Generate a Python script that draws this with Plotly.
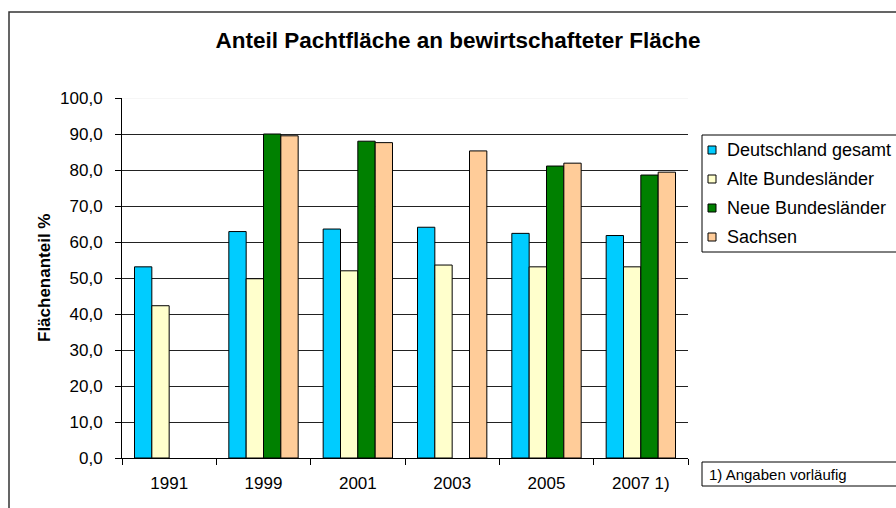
import plotly.graph_objects as go

years = ["1991", "1999", "2001", "2003", "2005", "2007 1)"]
deutschland = [53.1, 62.9, 63.6, 64.1, 62.4, 61.8]
alte_bl = [42.3, 49.8, 52.0, 53.6, 53.1, 53.1]
neue_bl = [None, 90.0, 88.0, None, 81.1, 78.6]
sachsen = [None, 89.5, 87.6, 85.3, 81.9, 79.4]

series_names = ["Deutschland gesamt", "Alte Bundesländer", "Neue Bundesländer", "Sachsen"]
series_values = [deutschland, alte_bl, neue_bl, sachsen]
series_colors = ["#00CCFF", "#FFFFCC", "#008000", "#FFCC99"]
footnote = "1) Angaben vorläufig"

FONT = "Liberation Sans, Arial, sans-serif"
W, H = 896, 508
ML, MR, MT, MB = 122, 208, 98, 50
PW, PH = W - ML - MR, H - MT - MB


def px_x(px):
    return (px - ML) / PW


def px_y(py):
    return (H - MB - py) / PH


fig = go.Figure()
for name, vals, col in zip(series_names, series_values, series_colors):
    fig.add_trace(go.Bar(
        x=years, y=vals, name=name, showlegend=False,
        marker=dict(color=col, line=dict(color="#000000", width=1)),
    ))

shapes = [
    dict(type="line", xref="paper", yref="y", x0=0, x1=1, y0=100, y1=100,
         line=dict(color="#EEEEEE", width=1), layer="between"),
    # outer chart frame
    dict(type="rect", xref="paper", yref="paper",
         x0=px_x(9), x1=px_x(930), y0=px_y(540), y1=px_y(12),
         line=dict(color="#333333", width=1.5)),
    # legend box
    dict(type="rect", xref="paper", yref="paper",
         x0=px_x(702), x1=px_x(930), y0=px_y(252), y1=px_y(135),
         line=dict(color="#000000", width=1), fillcolor="white"),
    # footnote box
    dict(type="rect", xref="paper", yref="paper",
         x0=px_x(702), x1=px_x(930), y0=px_y(486), y1=px_y(462),
         line=dict(color="#000000", width=1), fillcolor="white"),
]
annotations = [
    dict(text="Flächenanteil %", xref="paper", yref="paper",
         x=px_x(44), y=0.5, xanchor="center", yanchor="middle",
         textangle=-90, showarrow=False,
         font=dict(size=17, weight="bold", family=FONT)),
    dict(text=footnote, xref="paper", yref="paper",
         x=px_x(707), y=px_y(474), xanchor="left", yanchor="middle",
         showarrow=False, font=dict(size=15, family=FONT)),
]

# legend entries
for i, (name, col) in enumerate(zip(series_names, series_colors)):
    cy = 150 + 29 * i
    shapes.append(dict(type="rect", xref="paper", yref="paper",
                       x0=px_x(708), x1=px_x(716), y0=px_y(cy + 4), y1=px_y(cy - 4),
                       line=dict(color="#000000", width=1), fillcolor=col))
    annotations.append(dict(text=name, xref="paper", yref="paper",
                            x=px_x(725), y=px_y(cy), xanchor="left", yanchor="middle",
                            showarrow=False, font=dict(size=18, family=FONT)))

fig.update_layout(
    width=W, height=H,
    margin=dict(l=ML, r=MR, t=MT, b=MB, autoexpand=False),
    paper_bgcolor="white", plot_bgcolor="white",
    font=dict(family=FONT, size=17, color="#000000"),
    separators=",.",
    barmode="group", bargap=0.265, bargroupgap=0,
    title=dict(text="Anteil Pachtfläche an bewirtschafteter Fläche",
               font=dict(size=22.5, weight="bold", family=FONT),
               x=458 / W, xref="container", xanchor="center",
               y=1 - 40 / H, yref="container", yanchor="middle"),
    showlegend=False,
    hovermode=False,
    xaxis=dict(type="category", showline=True, linecolor="#000000", linewidth=1,
               ticks="outside", ticklen=6, tickcolor="#000000", tickson="boundaries",
               showgrid=False, tickfont=dict(size=17), ticklabelstandoff=10),
    yaxis=dict(range=[0, 100], dtick=10, tick0=0, tickformat=".1f",
               showline=True, linecolor="#000000", linewidth=1,
               ticks="outside", ticklen=6, tickcolor="#000000",
               showgrid=True, gridcolor="#222222", gridwidth=1,
               zeroline=False, tickfont=dict(size=17), ticklabelstandoff=9),
    shapes=shapes,
    annotations=annotations,
)

fig.write_html("out.html", config={"displayModeBar": False},
               post_script="document.body.style.margin='0';")
